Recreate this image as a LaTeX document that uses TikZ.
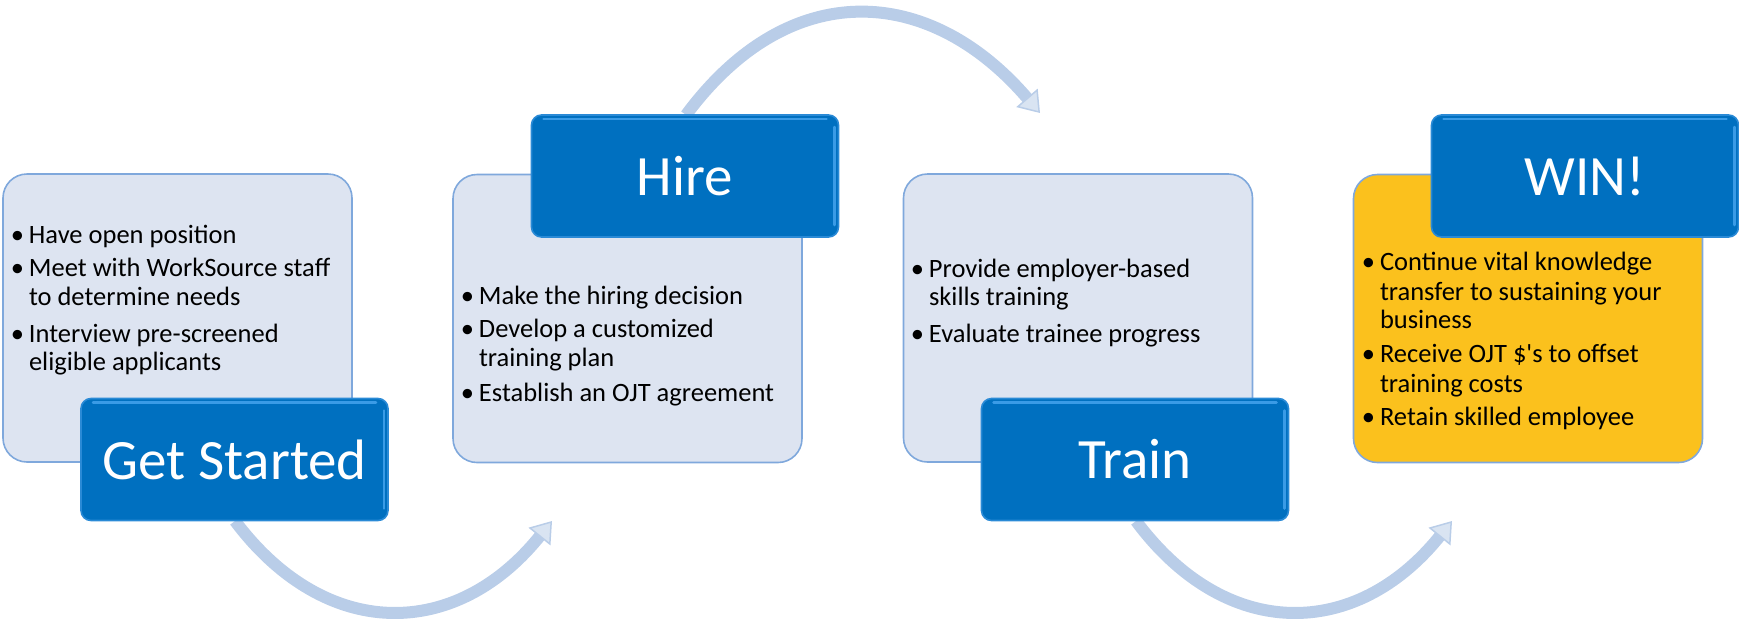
\documentclass[tikz,border=0pt]{standalone}
\usepackage{fontspec}
\setmainfont{Carlito}
\usetikzlibrary{arrows.meta}
\definecolor{lightfill}{HTML}{DDE4F1}
\definecolor{lightborder}{HTML}{7FA8DC}
\definecolor{winyellow}{HTML}{FBC11D}
\definecolor{titleblue}{HTML}{0070C0}
\definecolor{titleedge}{HTML}{2A8AD6}
\definecolor{titlehl}{HTML}{3A9BE6}
\definecolor{arrowblue}{HTML}{B9CDE8}
\newcommand{\bul}{\llap{•\hspace{5pt}}}
\tikzset{
 infobox/.style={draw=lightborder, line width=1.6pt, fill=lightfill, rounded corners=24pt,
   minimum width=349pt, minimum height=288pt, inner sep=0pt, outer sep=0pt},
 winbox/.style={infobox, fill=winyellow},
 titlebox/.style={draw=titleedge, line width=1.6pt, fill=titleblue, rounded corners=10pt,
   minimum width=307pt, minimum height=122pt, inner sep=0pt, outer sep=0pt,
   text=white, font=\fontsize{57}{60}\selectfont},
 txtline/.style={anchor=base west, inner sep=0pt, outer sep=0pt, font=\fontsize{26.5}{30}\selectfont},
 flow/.style={line width=12pt, draw=arrowblue,
   -{Triangle[width=28pt,length=20pt,fill=arrowblue!55!white,color=arrowblue,line width=1.5pt]}},
 gloss/.style={draw=titlehl, line width=2.5pt, line cap=round},
}
\begin{document}
\begin{tikzpicture}[x=1pt,y=-1pt]
\useasboundingbox (0,0) rectangle (1739,622);
% info boxes
\node[infobox] (b1) at (177.5,318) {};
\node[infobox] (b2) at (627.5,318.5) {};
\node[infobox] (b3) at (1078,318) {};
\node[winbox] (b4) at (1528,318.5) {};
% box 1 text
\node[txtline] (l11) at (29,243) {\bul Have open position};
\node[txtline] (l12) at (29,276) {\bul Meet with WorkSource staff};
\node[txtline] (l13) at (29,305) {to determine needs};
\node[txtline] (l14) at (29,342) {\bul Interview pre-screened};
\node[txtline] (l15) at (29,370) {eligible applicants};
% box 2 text
\node[txtline] (l21) at (479,304) {\bul Make the hiring decision};
\node[txtline] (l22) at (479,337) {\bul Develop a customized};
\node[txtline] (l23) at (479,366) {training plan};
\node[txtline] (l24) at (479,401) {\bul Establish an OJT agreement};
% box 3 text
\node[txtline] (l31) at (929,277) {\bul Provide employer-based};
\node[txtline] (l32) at (929,305) {skills training};
\node[txtline] (l33) at (929,342) {\bul Evaluate trainee progress};
% box 4 text
\node[txtline] (l41) at (1380,270) {\bul Continue vital knowledge};
\node[txtline] (l42) at (1380,300) {transfer to sustaining your};
\node[txtline] (l43) at (1380,328) {business};
\node[txtline] (l44) at (1380,362) {\bul Receive OJT \$\textquotesingle s to offset};
\node[txtline] (l45) at (1380,392) {training costs};
\node[txtline] (l46) at (1380,425) {\bul Retain skilled employee};
% arrow end points
\coordinate (gsS) at (235,521);
\coordinate (hireN) at (686,115);
\coordinate (trS) at (1136,521);
\coordinate (a1end) at (552,521);
\coordinate (a2end) at (1040,113);
\coordinate (a3end) at (1452,521);
% arrows
\draw[flow] (gsS) .. controls (326,642) and (456,640) .. (a1end);
\draw[flow] (hireN) .. controls (789,-24) and (929,-16) .. (a2end);
\draw[flow] (trS) .. controls (1226,642) and (1356,640) .. (a3end);
% title boxes
\node[titlebox] (gs) at (234.5,459.5) {Get Started};
\node[titlebox] (hire) at (685,176) {Hire};
\node[titlebox] (train) at (1135,459.5) {Train};
\node[titlebox] (win) at (1585,176) {WIN!};
% glossy highlights along the top and right edges
\foreach \b in {gs,hire,train,win}{
  \draw[gloss] ([xshift=12pt,yshift=-4pt]\b.north west) -- ([xshift=-12pt,yshift=-4pt]\b.north east);
  \draw[gloss] ([xshift=-4pt,yshift=-12pt]\b.north east) -- ([xshift=-4pt,yshift=12pt]\b.south east);
}
\end{tikzpicture}
\end{document}
